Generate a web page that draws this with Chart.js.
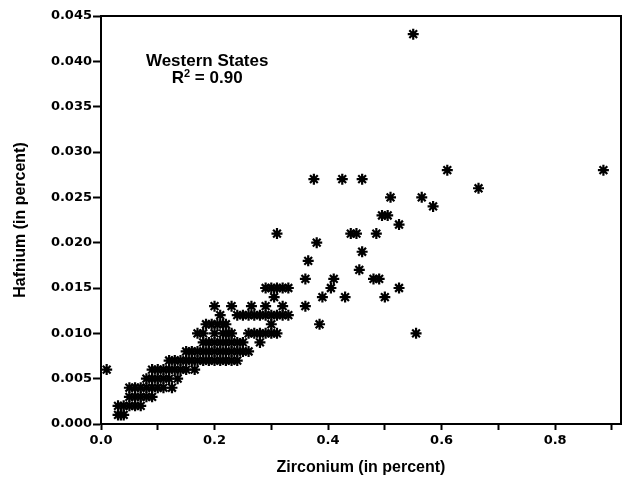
<!DOCTYPE html>
<html>
<head>
<meta charset="utf-8">
<title>Hafnium vs Zirconium</title>
<script src="https://cdn.jsdelivr.net/npm/chart.js@4.4.1/dist/chart.umd.min.js"></script>
<style>
  html, body { margin:0; padding:0; background:#fff; }
  #wrap { width:623px; height:479px; }
</style>
</head>
<body>
<div id="wrap"><canvas id="chart" width="623" height="479"></canvas></div>
<script>
/* ---------- Data (percent), one entry per sample ---------- */
const zirconium = [
  0.03, 0.035, 0.04,
  0.03, 0.04, 0.05, 0.06, 0.07,
  0.05, 0.06, 0.07, 0.08, 0.09,
  0.05, 0.06, 0.07, 0.08, 0.09, 0.10, 0.11, 0.125,
  0.08, 0.09, 0.10, 0.11, 0.12, 0.135,
  0.01, 0.09, 0.10, 0.11, 0.12, 0.13, 0.14, 0.15, 0.165,
  0.12, 0.13, 0.14, 0.15, 0.16, 0.17, 0.18, 0.19, 0.20, 0.21, 0.22, 0.23, 0.24,
  0.15, 0.16, 0.17, 0.18, 0.19, 0.20, 0.21, 0.22, 0.23, 0.24, 0.25, 0.26,
  0.18, 0.19, 0.20, 0.21, 0.22, 0.23, 0.24, 0.25, 0.28,
  0.17, 0.18, 0.20, 0.215, 0.225, 0.23, 0.26, 0.27, 0.28, 0.29, 0.30, 0.31, 0.555,
  0.185, 0.195, 0.205, 0.215, 0.22, 0.30, 0.385,
  0.21, 0.24, 0.25, 0.26, 0.27, 0.28, 0.29, 0.30, 0.31, 0.32, 0.33,
  0.20, 0.23, 0.265, 0.29, 0.32, 0.36,
  0.305, 0.39, 0.43, 0.50,
  0.29, 0.30, 0.31, 0.32, 0.33, 0.405, 0.525,
  0.36, 0.41, 0.48, 0.49,
  0.455,
  0.365,
  0.46,
  0.38,
  0.31, 0.44, 0.45, 0.485,
  0.525,
  0.495, 0.505,
  0.585,
  0.51, 0.565,
  0.665,
  0.375, 0.425, 0.46,
  0.61, 0.885,
  0.55
];
const hafnium = [
  0.001, 0.001, 0.001,
  0.002, 0.002, 0.002, 0.002, 0.002,
  0.003, 0.003, 0.003, 0.003, 0.003,
  0.004, 0.004, 0.004, 0.004, 0.004, 0.004, 0.004, 0.004,
  0.005, 0.005, 0.005, 0.005, 0.005, 0.005,
  0.006, 0.006, 0.006, 0.006, 0.006, 0.006, 0.006, 0.006, 0.006,
  0.007, 0.007, 0.007, 0.007, 0.007, 0.007, 0.007, 0.007, 0.007, 0.007, 0.007, 0.007, 0.007,
  0.008, 0.008, 0.008, 0.008, 0.008, 0.008, 0.008, 0.008, 0.008, 0.008, 0.008, 0.008,
  0.009, 0.009, 0.009, 0.009, 0.009, 0.009, 0.009, 0.009, 0.009,
  0.010, 0.010, 0.010, 0.010, 0.010, 0.010, 0.010, 0.010, 0.010, 0.010, 0.010, 0.010, 0.010,
  0.011, 0.011, 0.011, 0.011, 0.011, 0.011, 0.011,
  0.012, 0.012, 0.012, 0.012, 0.012, 0.012, 0.012, 0.012, 0.012, 0.012, 0.012,
  0.013, 0.013, 0.013, 0.013, 0.013, 0.013,
  0.014, 0.014, 0.014, 0.014,
  0.015, 0.015, 0.015, 0.015, 0.015, 0.015, 0.015,
  0.016, 0.016, 0.016, 0.016,
  0.017,
  0.018,
  0.019,
  0.020,
  0.021, 0.021, 0.021, 0.021,
  0.022,
  0.023, 0.023,
  0.024,
  0.025, 0.025,
  0.026,
  0.027, 0.027, 0.027,
  0.028, 0.028,
  0.043
];

const regionLabel = 'Western States';
const rSquared = '0.90';
const xTitle = 'Zirconium (in percent)';
const yTitle = 'Hafnium (in percent)';

const points = zirconium.map((x, i) => ({ x, y: hafnium[i] }));

/* ---------- Plugins: box frame + in-plot caption ---------- */
const framePlugin = {
  id: 'frame',
  afterDraw(chart){
    const { ctx, chartArea: a } = chart;
    ctx.save();
    ctx.strokeStyle = '#000';
    ctx.lineWidth = 2;
    ctx.strokeRect(a.left, a.top, a.right - a.left, a.bottom - a.top);
    ctx.restore();
  }
};

const captionPlugin = {
  id: 'caption',
  afterDraw(chart){
    const { ctx, scales:{ x, y } } = chart;
    const cx = x.getPixelForValue(0.187);
    ctx.save();
    ctx.fillStyle = '#000';
    ctx.textBaseline = 'middle';
    ctx.textAlign = 'center';
    ctx.font = 'bold 17px "Liberation Sans", Arial, sans-serif';
    ctx.fillText(regionLabel, cx, y.getPixelForValue(0.0400));

    // R² = 0.90 with a raised small 2
    const y2 = y.getPixelForValue(0.0381);
    const big = 'bold 17px "Liberation Sans", Arial, sans-serif';
    const small = 'bold 11px "Liberation Sans", Arial, sans-serif';
    ctx.font = big;  const wR = ctx.measureText('R').width;
    const rest = ' = ' + rSquared; const wRest = ctx.measureText(rest).width;
    ctx.font = small; const w2 = ctx.measureText('2').width;
    let sx = cx - (wR + w2 + wRest) / 2;
    ctx.textAlign = 'left';
    ctx.font = big;   ctx.fillText('R', sx, y2);
    ctx.font = small; ctx.fillText('2', sx + wR, y2 - 5);
    ctx.font = big;   ctx.fillText(rest, sx + wR + w2, y2);
    ctx.restore();
  }
};

const tickFont = { family:'"DejaVu Sans", sans-serif', size:13, weight:'bold' };
const titleFont = { family:'"Liberation Sans", Arial, sans-serif', size:16, weight:'bold' };

new Chart(document.getElementById('chart').getContext('2d'), {
  type:'scatter',
  data:{
    datasets:[{
      data: points,
      pointStyle:'star',
      radius:5.5,
      borderWidth:2.2,
      borderColor:'#000',
      backgroundColor:'#000'
    }]
  },
  options:{
    responsive:false,
    animation:false,
    events:[],
    layout:{ autoPadding:false, padding:{ top:16, right:2, left:0, bottom:0 } },
    plugins:{ legend:{ display:false }, tooltip:{ enabled:false } },
    scales:{
      x:{
        type:'linear', min:0, max:0.916,
        afterFit(s){ s.height = 55; s.paddingLeft = 0; s.paddingRight = 0; },
        border:{ display:true, color:'#000', width:2 },
        grid:{ drawOnChartArea:false, drawTicks:true, tickLength:6, tickColor:'#000', tickWidth:2 },
        ticks:{
          stepSize:0.1, includeBounds:false, color:'#000', font:tickFont, padding:3, maxRotation:0,
          callback:(v) => (Math.round(v * 10) % 2 === 0) ? v.toFixed(1) : ''
        },
        title:{ display:true, text:xTitle, color:'#000', font:titleFont, padding:{ top:0, bottom:2 } }
      },
      y:{
        type:'linear', min:0, max:0.045,
        afterFit(s){ s.width = 101; },
        border:{ display:true, color:'#000', width:2 },
        grid:{ drawOnChartArea:false, drawTicks:true, tickLength:8, tickColor:'#000', tickWidth:2 },
        ticks:{ stepSize:0.005, color:'#000', font:tickFont, padding:1, callback:(v) => v.toFixed(3) },
        title:{ display:true, text:yTitle, color:'#000', font:titleFont, padding:{ top:11, bottom:0 } }
      }
    }
  },
  plugins:[framePlugin, captionPlugin]
});
</script>
</body>
</html>
